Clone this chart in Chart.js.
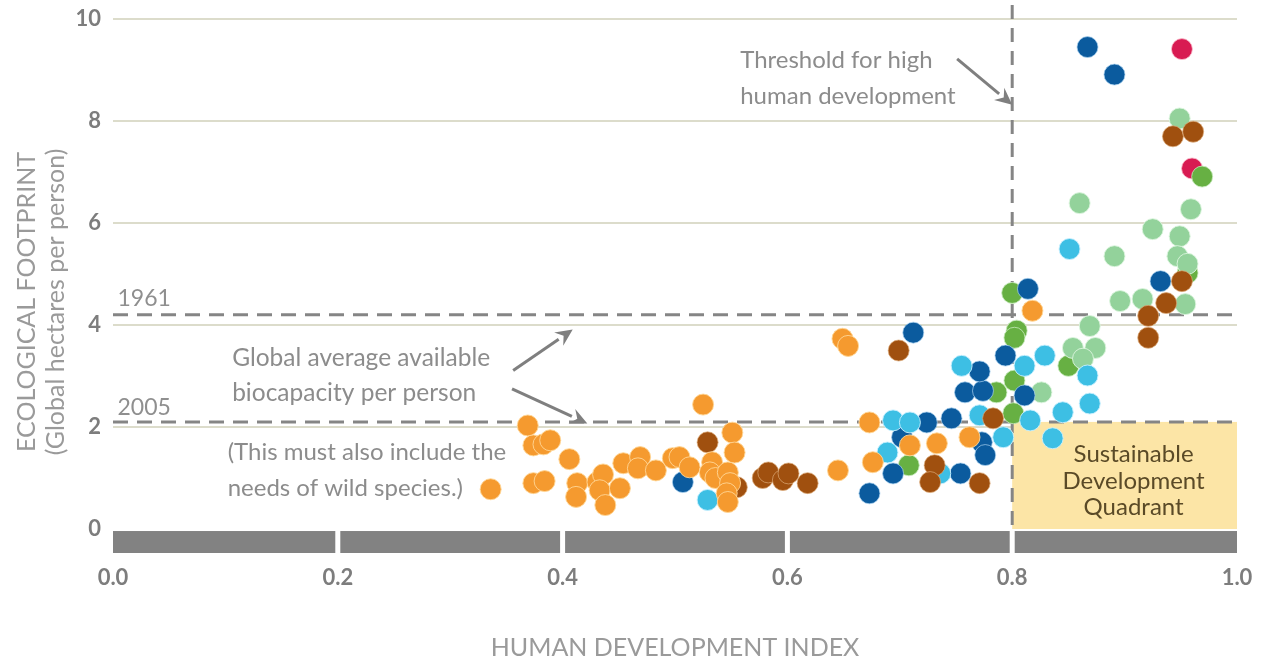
<!DOCTYPE html>
<html>
<head>
<meta charset="utf-8">
<script src="https://cdn.jsdelivr.net/npm/chart.js@4/dist/chart.umd.min.js"></script>
<style>
  html, body { margin: 0; padding: 0; background: #ffffff; }
  #wrap { width: 1268px; height: 661px; position: relative; }
</style>
</head>
<body>
<div id="wrap"><canvas id="c"></canvas></div>
<script>
// ---- Data: [Human Development Index, Ecological Footprint (gha per person)] ----
const orangeSeries = [
  [.336,.78],[.369,2.03],[.374,1.64],[.383,1.66],[.389,1.74],[.374,.90],[.384,.94],
  [.406,1.37],[.413,.90],[.412,.63],[.431,.92],[.436,1.07],[.433,.76],[.438,.47],
  [.451,.80],[.454,1.29],[.469,1.41],[.467,1.19],[.483,1.15],[.498,1.39],[.504,1.41],
  [.513,1.21],[.525,2.44],[.533,1.31],[.531,1.11],[.536,1.00],[.547,1.11],[.549,.90],
  [.546,.70],[.547,.53],[.551,1.89],[.553,1.50],[.645,1.15],[.649,3.73],[.654,3.59],
  [.673,2.09],[.676,1.31],[.709,1.64],[.733,1.68],[.762,1.80],[.818,4.28]
];
const brownSeries = [
  [.529,1.70],[.555,.82],[.578,1.00],[.583,1.11],[.596,.96],[.601,1.09],[.618,.90],
  [.699,3.50],[.731,1.25],[.727,.92],[.771,.90],[.783,2.17],[.921,4.18],[.921,3.75],
  [.937,4.43],[.951,4.86],[.943,7.70],[.961,7.79]
];
const darkBlueSeries = [
  [.507,.92],[.673,.70],[.694,1.09],[.702,1.80],[.712,3.85],[.724,2.09],[.746,2.17],
  [.754,1.09],[.758,2.68],[.774,2.71],[.771,3.09],[.794,3.40],[.773,1.70],[.776,1.45],
  [.811,2.62],[.814,4.71],[.932,4.86],[.867,9.45],[.891,8.91]
];
const lightBlueSeries = [
  [.529,.57],[.689,1.50],[.694,2.13],[.709,2.09],[.736,1.09],[.755,3.20],[.771,2.23],
  [.792,1.80],[.811,3.20],[.816,2.13],[.829,3.40],[.836,1.78],[.845,2.29],[.867,3.01],
  [.869,2.46],[.851,5.49]
];
const greenSeries = [
  [.708,1.25],[.786,2.68],[.802,2.91],[.801,2.27],[.800,4.63],[.804,3.89],[.802,3.75],
  [.850,3.20],[.956,5.02],[.969,6.91]
];
const paleGreenSeries = [
  [.826,2.68],[.869,3.98],[.854,3.55],[.874,3.55],[.863,3.34],[.860,6.39],[.959,6.27],
  [.925,5.88],[.949,5.74],[.891,5.35],[.947,5.35],[.956,5.20],[.896,4.47],[.916,4.51],
  [.954,4.41],[.949,8.05]
];
const redSeries = [[.951,9.41],[.960,7.07]];

// Reference values
const biocapacity1961 = 4.2;
const biocapacity2005 = 2.1;
const highHDIThreshold = 0.8;
const xTickValues = [0, 0.2, 0.4, 0.6, 0.8, 1.0];
const yTickValues = [0, 2, 4, 6, 8, 10];

const toPts = arr => arr.map(p => ({x: p[0], y: p[1]}));

const seriesStyles = [
  {data: orangeSeries,    color: '#f59a2f', edge: 'rgba(255,214,150,0.9)'},
  {data: brownSeries,     color: '#a0500f', edge: 'rgba(220,170,120,0.7)'},
  {data: lightBlueSeries, color: '#3dbfe4', edge: 'rgba(200,240,255,0.9)'},
  {data: darkBlueSeries,  color: '#0b5b9e', edge: 'rgba(170,210,240,0.7)'},
  {data: paleGreenSeries, color: '#93d29b', edge: 'rgba(220,245,222,0.9)'},
  {data: greenSeries,     color: '#67b043', edge: 'rgba(200,235,190,0.8)'},
  {data: redSeries,       color: '#d81b52', edge: 'rgba(250,190,205,0.8)'}
];

const FONT = 'Lato, "DejaVu Sans", sans-serif';
const GREY_TEXT = '#8c8c8c';
const annotationTexts = [
  {lines: ['Threshold for high', 'human development'], x: .558, y: 9.2, dy: 0.72, align: 'left', size: 24, color: GREY_TEXT},
  {lines: ['Global average available', 'biocapacity per person'], x: .106, y: 3.36, dy: 0.70, align: 'left', size: 24.5, color: GREY_TEXT},
  {lines: ['(This must also include the', 'needs of wild species.)'], x: .102, y: 1.50, dy: 0.70, align: 'left', size: 24, color: GREY_TEXT},
  {lines: ['1961'], x: .004, y: 4.51, dy: 0, align: 'left', size: 23, color: '#8f8f8f'},
  {lines: ['2005'], x: .004, y: 2.38, dy: 0, align: 'left', size: 23, color: '#8f8f8f'},
  {lines: ['Sustainable', 'Development', 'Quadrant'], x: .908, y: 1.46, dy: 0.52, align: 'center', size: 24, color: '#5a4a27'}
];
const arrows = [
  {from: [.356, 3.11], to: [.409, 3.91]},
  {from: [.355, 2.75], to: [.422, 2.07]},
  {from: [.751, 9.22], to: [.800, 8.32]}
];

const decorPlugin = {
  id: 'decor',
  beforeDatasetsDraw(chart) {
    const {ctx, scales: {x, y}} = chart;
    ctx.save();
    ctx.fillStyle = '#fce5a6';
    const qx0 = x.getPixelForValue(highHDIThreshold), qx1 = x.getPixelForValue(1);
    const qy0 = y.getPixelForValue(biocapacity2005), qy1 = y.getPixelForValue(0);
    ctx.fillRect(qx0, qy0, qx1 - qx0, qy1 - qy0);
    const by0 = y.getPixelForValue(0) + 2, by1 = y.getPixelForValue(y.min);
    ctx.fillStyle = '#828282';
    ctx.fillRect(x.getPixelForValue(0), by0, x.getPixelForValue(1) - x.getPixelForValue(0), by1 - by0);
    ctx.fillStyle = '#ffffff';
    xTickValues.slice(1, -1).forEach(v => {
      const px = x.getPixelForValue(v);
      ctx.fillRect(px - 2.5, by0 - 1, 5, by1 - by0 + 2);
    });
    ctx.strokeStyle = '#858585';
    ctx.lineWidth = 3;
    ctx.setLineDash([15, 9]);
    [biocapacity1961, biocapacity2005].forEach(v => {
      const py = y.getPixelForValue(v);
      ctx.beginPath();
      ctx.moveTo(x.getPixelForValue(0), py);
      ctx.lineTo(x.getPixelForValue(1), py);
      ctx.stroke();
    });
    ctx.setLineDash([14, 9]);
    const tx = x.getPixelForValue(highHDIThreshold);
    ctx.beginPath();
    ctx.moveTo(tx, 5);
    ctx.lineTo(tx, y.getPixelForValue(0) + 1);
    ctx.stroke();
    ctx.restore();
  },
  afterDatasetsDraw(chart) {
    const {ctx, scales: {x, y}} = chart;
    ctx.save();
    ctx.textBaseline = 'middle';
    annotationTexts.forEach(t => {
      ctx.font = `${t.size}px ${FONT}`;
      ctx.fillStyle = t.color;
      ctx.textAlign = t.align;
      t.lines.forEach((line, i) => {
        ctx.fillText(line, x.getPixelForValue(t.x), y.getPixelForValue(t.y - i * t.dy));
      });
    });
    ctx.strokeStyle = '#7f7f7f';
    ctx.fillStyle = '#7f7f7f';
    ctx.lineWidth = 3;
    arrows.forEach(a => {
      const x0 = x.getPixelForValue(a.from[0]), y0 = y.getPixelForValue(a.from[1]);
      const x1 = x.getPixelForValue(a.to[0]), y1 = y.getPixelForValue(a.to[1]);
      const ang = Math.atan2(y1 - y0, x1 - x0);
      const hl = 17, hw = 8;
      const bx = x1 - hl * Math.cos(ang), byy = y1 - hl * Math.sin(ang);
      ctx.beginPath();
      ctx.moveTo(x0, y0);
      ctx.lineTo(bx, byy);
      ctx.stroke();
      ctx.beginPath();
      ctx.moveTo(x1, y1);
      ctx.lineTo(bx + hw * Math.sin(ang), byy - hw * Math.cos(ang));
      ctx.lineTo(bx + 0.35 * hl * Math.cos(ang), byy + 0.35 * hl * Math.sin(ang));
      ctx.lineTo(bx - hw * Math.sin(ang), byy + hw * Math.cos(ang));
      ctx.closePath();
      ctx.fill();
    });
    ctx.restore();
  }
};

new Chart(document.getElementById('c'), {
  type: 'scatter',
  data: {
    datasets: seriesStyles.map(s => ({
      data: toPts(s.data),
      backgroundColor: s.color,
      borderColor: s.edge,
      borderWidth: 1,
      pointRadius: 10.5,
      pointHoverRadius: 10.5
    }))
  },
  options: {
    responsive: true,
    maintainAspectRatio: false,
    animation: false,
    layout: {padding: {top: 19, right: 31, bottom: 0, left: 0}},
    plugins: {legend: {display: false}, tooltip: {enabled: false}},
    scales: {
      x: {
        type: 'linear', min: 0, max: 1,
        afterBuildTicks: s => { s.ticks = xTickValues.map(v => ({value: v})); },
        afterFit: s => { s.height = 108; },
        grid: {display: false, drawTicks: false},
        border: {display: false},
        ticks: {
          padding: 14,
          color: '#7d7d7d',
          font: {family: FONT, size: 22, weight: 'bold', lineHeight: 1},
          callback: v => Number(v).toFixed(1)
        },
        title: {
          display: true, text: 'HUMAN DEVELOPMENT INDEX', color: '#9a9a9a',
          font: {family: FONT, size: 25, lineHeight: 1},
          padding: {top: 0, bottom: 1}
        }
      },
      y: {
        type: 'linear', min: -0.47, max: 10,
        afterBuildTicks: s => { s.ticks = yTickValues.map(v => ({value: v})); },
        afterFit: s => { s.width = 113; },
        grid: {
          drawTicks: false, lineWidth: 2,
          color: c => (c.tick && c.tick.value === 0) ? 'rgba(0,0,0,0)' : '#dcdccb'
        },
        border: {display: false},
        ticks: {
          padding: 12,
          color: '#7d7d7d',
          font: {family: FONT, size: 22, weight: 'bold', lineHeight: 0.1}
        },
        title: {
          display: true, text: ['ECOLOGICAL FOOTPRINT     ', '(Global hectares per person)     '], color: '#9a9a9a',
          font: {family: FONT, size: 25, lineHeight: 1.16},
          padding: {top: 12, bottom: 0}
        }
      }
    }
  },
  plugins: [decorPlugin]
});
</script>
</body>
</html>
